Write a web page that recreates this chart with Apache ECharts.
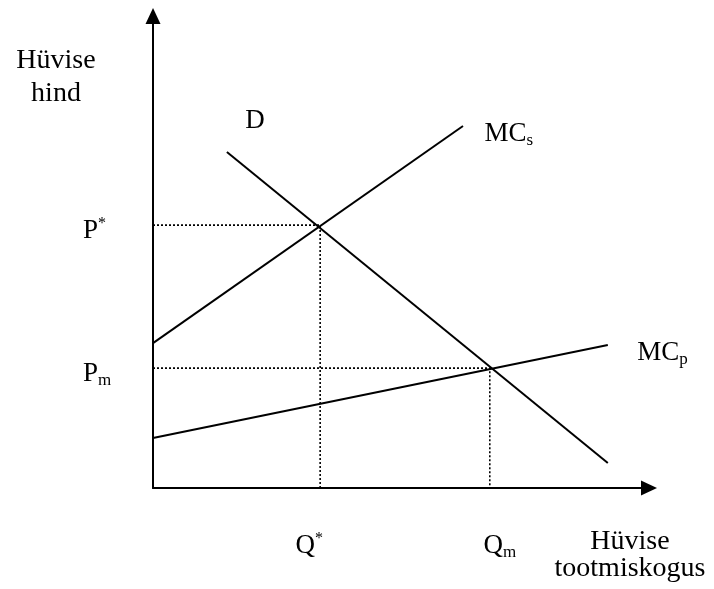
<!DOCTYPE html>
<html>
<head>
<meta charset="utf-8">
<script src="https://cdn.jsdelivr.net/npm/echarts@6/dist/echarts.min.js"></script>
<style>html,body{margin:0;padding:0;background:#fff;}#c{width:714px;height:589px;}</style>
</head>
<body>
<div id="c"></div>
<script>
// Curve endpoints (x = quantity, y = price), in chart units 0..100
const curveMCs = [[0, 30.7], [62.5, 76.7]];
const curveD = [[14.9, 71.2], [91.7, 5.3]];
const curveMCp = [[0, 10.6], [91.7, 30.3]];
// Equilibria
const pStar = 55.7, qStar = 33.7;
const pM = 25.4, qM = 67.9;
const guideStar = [[0, pStar], [qStar, pStar], [qStar, 0]];
const guideM = [[0, pM], [qM, pM], [qM, 0]];
const yTickValues = [pStar, pM];
const xTickValues = [qStar, qM];
const yTitle = 'Hüvise\nhind';
const xTitle = 'Hüvise\ntootmiskogus';

const FONT = "'Liberation Serif', 'Times New Roman', serif";
const FS = 27;
const rich = {
  m: {fontFamily: FONT, fontSize: FS, color: '#000', lineHeight: 30},
  sup: {fontFamily: FONT, fontSize: 16, color: '#000', verticalAlign: 'top', lineHeight: 30},
  sub: {fontFamily: FONT, fontSize: 17, color: '#000', verticalAlign: 'bottom', lineHeight: 30},
  qs: {fontFamily: FONT, fontSize: FS, color: '#000', lineHeight: 30},
  sup2: {fontFamily: FONT, fontSize: 16, color: '#000', verticalAlign: 'top', lineHeight: 30, padding: [0, 22, 0, 0]},
  qm: {fontFamily: FONT, fontSize: FS, color: '#000', lineHeight: 30, padding: [0, 0, 0, 20]}
};

function near(a, b) { return Math.abs(a - b) < 0.01; }

const chart = echarts.init(document.getElementById('c'));
const black = '#000';
const lineS = {color: black, width: 2};
const dotS = {color: black, width: 1.6, type: [2, 2]};

chart.setOption({
  animation: false,
  backgroundColor: '#fff',
  grid: {left: 153, top: 16, right: 65, bottom: 101, containLabel: false},
  xAxis: {
    type: 'value', min: 0, max: 100,
    splitLine: {show: false}, axisTick: {show: false},
    axisLine: {show: true, lineStyle: {color: black, width: 2}, symbol: ['none', 'triangle'], symbolSize: [15, 16]},
    axisLabel: {
      customValues: xTickValues, margin: 43, rich: rich,
      formatter: function (v) { return near(v, qStar) ? '{qs|Q}{sup2|*}' : '{qm|Q}{sub|m}'; }
    }
  },
  yAxis: {
    type: 'value', min: 0, max: 100,
    splitLine: {show: false}, axisTick: {show: false},
    axisLine: {show: true, lineStyle: {color: black, width: 2}, symbol: ['none', 'triangle'], symbolSize: [15, 16]},
    axisLabel: {
      customValues: yTickValues, margin: 70, align: 'left', rich: rich, padding: [12, 0, 0, 0],
      formatter: function (v) { return near(v, pStar) ? '{m|P}{sup|*}' : '{m|P}{sub|m}'; }
    }
  },
  graphic: [
    {type: 'text', x: 56, y: 44, style: {text: yTitle, font: '28px ' + FONT, fill: black, align: 'center', verticalAlign: 'top', lineHeight: 33}},
    {type: 'text', x: 630, y: 528, style: {text: xTitle, font: '28px ' + FONT, fill: black, align: 'center', verticalAlign: 'top', lineHeight: 27}}
  ],
  series: [
    {type: 'line', data: guideStar, lineStyle: dotS, symbol: 'none', silent: true},
    {type: 'line', data: guideM, lineStyle: dotS, symbol: 'none', silent: true},
    {type: 'line', lineStyle: lineS, symbol: 'circle', symbolSize: 1, showSymbol: true, itemStyle: {color: 'transparent'},
     data: [curveMCs[0], {value: curveMCs[1], label: {show: true, position: 'right', distance: 21, offset: [0, 8], formatter: '{m|MC}{sub|s}', rich: rich}}]},
    {type: 'line', lineStyle: lineS, symbol: 'circle', symbolSize: 1, showSymbol: true, itemStyle: {color: 'transparent'},
     data: [{value: curveD[0], label: {show: true, position: 'inside', offset: [28, -31], formatter: '{m|D}', rich: rich}}, curveD[1]]},
    {type: 'line', lineStyle: lineS, symbol: 'circle', symbolSize: 1, showSymbol: true, itemStyle: {color: 'transparent'},
     data: [curveMCp[0], {value: curveMCp[1], label: {show: true, position: 'right', distance: 29, offset: [0, 8], formatter: '{m|MC}{sub|p}', rich: rich}}]}
  ]
});
</script>
</body>
</html>
